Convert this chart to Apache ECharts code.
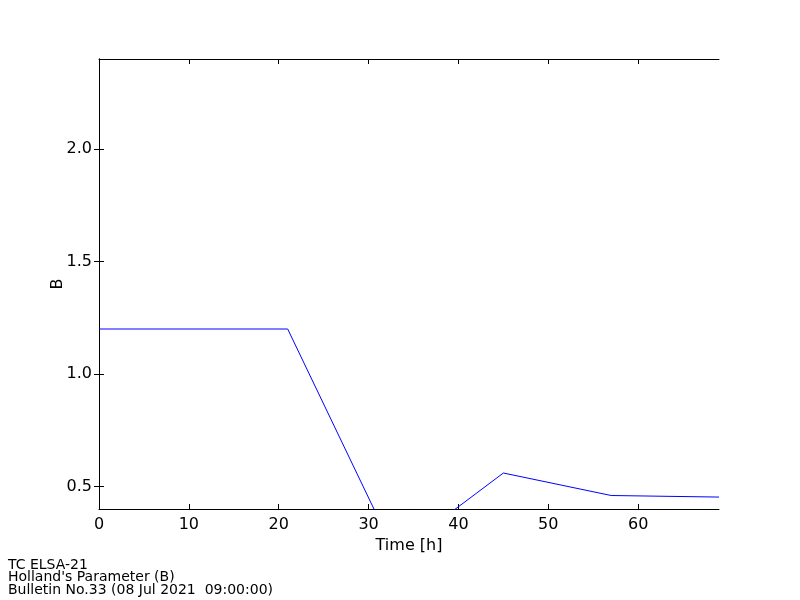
<!DOCTYPE html>
<html>
<head>
<meta charset="utf-8">
<script src="https://cdn.jsdelivr.net/npm/echarts@6/dist/echarts.min.js"></script>
<style>html,body{margin:0;padding:0;background:#fff;}#c{width:800px;height:600px;}</style>
</head>
<body>
<div id="c"></div>
<script>
var timeHours = [0, 21, 33, 45, 57, 69];
var hollandB = [1.2, 1.2, 0.2, 0.56, 0.46, 0.453];
var xTicks = [0, 10, 20, 30, 40, 50, 60];
var yTicks = [0.5, 1.0, 1.5, 2.0];
var footerLines = ["TC ELSA-21", "Holland's Parameter (B)", "Bulletin No.33 (08 Jul 2021  09:00:00)"];

var chart = echarts.init(document.getElementById('c'), null, {renderer: 'canvas'});
var font = 'DejaVu Sans';
var axisCommon = {
  axisLine: {show: true, lineStyle: {color: '#000', width: 1}},
  splitLine: {show: false}
};
var option = {
  animation: false,
  backgroundColor: '#fff',
  grid: {left: 99, top: 59, width: 620, height: 450, show: false},
  xAxis: [
    Object.assign({
      type: 'value', min: 0, max: 69, position: 'bottom',
      name: 'Time [h]', nameLocation: 'middle', nameGap: 26,
      nameTextStyle: {fontFamily: font, fontSize: 16, color: '#000'},
      axisTick: {show: true, inside: true, length: 5, customValues: xTicks, lineStyle: {color: '#000'}},
      axisLabel: {show: true, customValues: xTicks, fontFamily: font, fontSize: 16, color: '#000', margin: 8}
    }, axisCommon),
    Object.assign({
      type: 'value', min: 0, max: 69, position: 'top',
      axisTick: {show: true, inside: true, length: 5, customValues: xTicks, lineStyle: {color: '#000'}},
      axisLabel: {show: false}
    }, axisCommon)
  ],
  yAxis: [
    Object.assign({
      type: 'value', min: 0.4, max: 2.4, position: 'left',
      name: 'B', nameLocation: 'middle', nameGap: 33, nameRotate: 90, nameMoveOverlap: false,
      nameTextStyle: {fontFamily: font, fontSize: 16, color: '#000'},
      axisTick: {show: true, inside: true, length: 5, customValues: yTicks, lineStyle: {color: '#000'}},
      axisLabel: {show: true, customValues: yTicks, fontFamily: font, fontSize: 16, color: '#000', margin: 7,
        formatter: function (v) { return Number(v).toFixed(1); }}
    }, axisCommon),
    Object.assign({
      type: 'value', min: 0.4, max: 2.4, position: 'right',
      axisTick: {show: true, inside: true, length: 5, customValues: yTicks, lineStyle: {color: '#000'}},
      axisLabel: {show: false}
    }, axisCommon)
  ],
  series: [{
    type: 'line',
    xAxisIndex: 0, yAxisIndex: 0,
    data: timeHours.map(function (t, i) { return [t, hollandB[i]]; }),
    showSymbol: false, symbol: 'none',
    clip: true,
    lineStyle: {color: '#0000ff', width: 1},
    itemStyle: {color: '#0000ff'}
  }],
  graphic: [{
    type: 'text', left: 8, top: 558,
    style: {text: footerLines.join('\n'), font: '14px "DejaVu Sans"', fill: '#000', lineHeight: 12.5}
  }]
};
chart.setOption(option);
</script>
</body>
</html>
